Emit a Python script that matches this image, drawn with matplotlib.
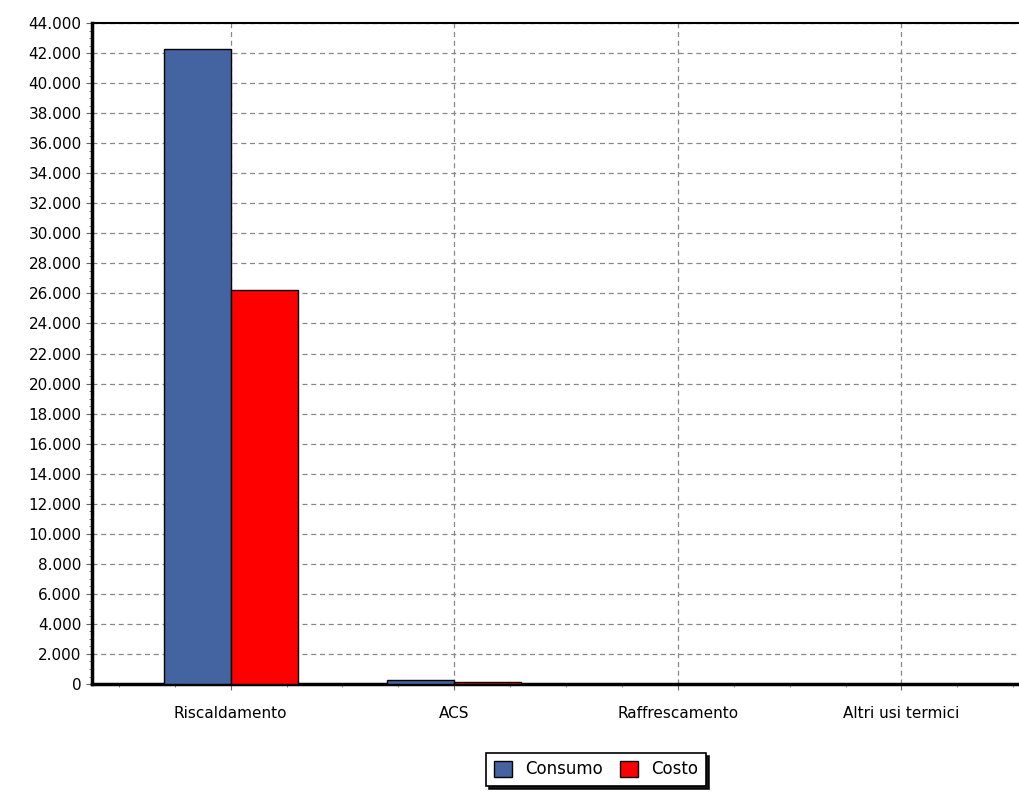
import numpy as np
import matplotlib.pyplot as plt
from matplotlib.ticker import FuncFormatter, MultipleLocator

categorie = ["Riscaldamento", "ACS", "Raffrescamento", "Altri usi termici"]
consumo = [42300, 300, 0, 0]
costo = [26250, 150, 0, 0]
serie = ["Consumo", "Costo"]

fig = plt.figure(figsize=(10.19, 7.94), dpi=100)
ax = fig.add_axes([0.0903, 0.1385, 0.915, 0.8325])

x = np.arange(len(categorie))
w = 0.3
ax.bar(x - w / 2, consumo, w, color="#4463a1", edgecolor="black", linewidth=1, label=serie[0], zorder=3)
ax.bar(x + w / 2, costo, w, color="#ff0000", edgecolor="black", linewidth=1, label=serie[1], zorder=3)

ax.set_ylim(0, 44000)
ax.set_xlim(-0.62, 3.55)
ax.yaxis.set_major_locator(MultipleLocator(2000))
ax.yaxis.set_minor_locator(MultipleLocator(500))
ax.yaxis.set_major_formatter(FuncFormatter(lambda v, p: "{:,.0f}".format(v).replace(",", ".")))
ax.set_xticks(x)
ax.set_xticklabels(categorie)
ax.xaxis.set_minor_locator(MultipleLocator(0.25))

ax.grid(True, which="major", color="#888888", linestyle=(0, (4, 3)), linewidth=0.9, zorder=0)
ax.tick_params(axis="both", which="major", labelsize=11, length=4, color="#666666")
ax.tick_params(axis="both", which="minor", length=2, color="#666666")
ax.tick_params(axis="x", pad=12)

for s in ["left", "bottom"]:
    ax.spines[s].set_linewidth(2.5)
ax.spines["top"].set_linewidth(1.5)
ax.spines["right"].set_visible(False)

leg = fig.legend(loc="center", bbox_to_anchor=(0.585, 0.031), ncol=2, fontsize=12,
                 frameon=True, fancybox=False, shadow={"color": "black", "alpha": 0.9},
                 handlelength=1.1, handleheight=1.1, handletextpad=0.8, columnspacing=1.0,
                 borderpad=0.45, borderaxespad=0)
leg.get_frame().set_edgecolor("black")
leg.get_frame().set_linewidth(1.2)
leg.get_frame().set_alpha(1)

fig.savefig("out.png", dpi=100)
